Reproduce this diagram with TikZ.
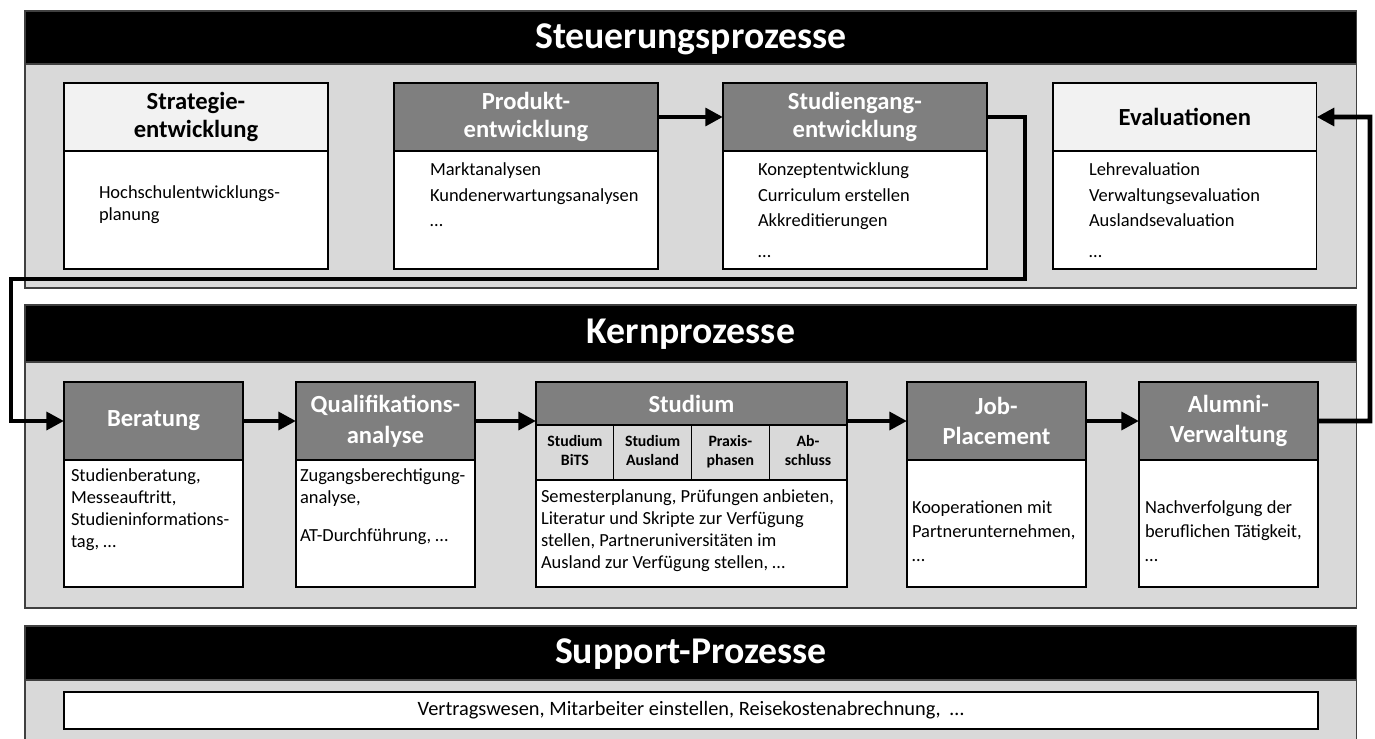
\documentclass[tikz,border=0pt]{standalone}
\usepackage{fontspec}
\setmainfont{Carlito}
\usetikzlibrary{arrows.meta,positioning}

\definecolor{panelgrey}{HTML}{D9D9D9}
\definecolor{headgrey}{HTML}{7F7F7F}
\definecolor{lightgrey}{HTML}{F2F2F2}

\begin{document}
\begin{tikzpicture}[
  x=0.02cm, y=-0.02cm,
  every node/.style={outer sep=0pt},
  panelhead/.style={fill=black, draw=black!75, line width=0.8pt, text=white, font=\fontsize{21.5}{24}\selectfont\bfseries, text depth=2pt, minimum width=26.64cm, anchor=north west, inner sep=0pt},
  panel/.style={fill=panelgrey, draw=black!75, line width=0.8pt, minimum width=26.64cm, inner sep=0pt},
  darkhead/.style={draw, line width=0.8pt, fill=headgrey, text=white, font=\fontsize{14}{16}\selectfont\bfseries, align=center, inner sep=0pt},
  lighthead/.style={darkhead, fill=lightgrey, text=black},
  topbox/.style={minimum width=5.28cm, minimum height=1.36cm},
  kernbox/.style={minimum width=3.58cm, minimum height=1.56cm, font=\fontsize{14}{17.5}\selectfont\bfseries},
  bodybox/.style={draw, line width=0.8pt, fill=white, inner sep=0pt},
  subcell/.style={draw, line width=0.8pt, fill=panelgrey, font=\fontsize{9}{10.8}\selectfont\bfseries, align=center, text depth=2pt, minimum width=1.555cm, minimum height=1.1cm, anchor=north west, inner sep=0pt},
  bodytext/.style={font=\fontsize{10.5}{12.5}\selectfont, align=left, anchor=north west, inner sep=0pt},
  toptext/.style={bodytext, font=\fontsize{10.5}{14.5}\selectfont},
  arrow/.style={-{Triangle[length=10pt,width=10pt]}, line width=2.6pt},
]
\useasboundingbox (0,0) rectangle (1375,738);
\clip (0,0) rectangle (1375,738);

% Steuerungsprozesse
\node[panelhead, minimum height=1.06cm] (steuerung) at (25,11) {Steuerungsprozesse};
\node[panel, minimum height=4.48cm, below=0pt of steuerung] (steuerungpanel) {};

\node[lighthead, topbox, anchor=north west] (strategie) at (64,83) {Strategie-\\entwicklung};
\node[darkhead, topbox, right=1.32cm of strategie] (produkt) {Produkt-\\entwicklung};
\node[darkhead, topbox, right=1.3cm of produkt] (studiengang) {Studiengang-\\entwicklung};
\node[lighthead, topbox, right=1.32cm of studiengang] (evaluation) {Evaluationen};

\node[bodybox, minimum width=5.28cm, minimum height=2.36cm, below=0pt of strategie] (strategiebody) {};
\node[bodybox, minimum width=5.28cm, minimum height=2.36cm, below=0pt of produkt] (produktbody) {};
\node[bodybox, minimum width=5.28cm, minimum height=2.36cm, below=0pt of studiengang] (studiengangbody) {};
\node[bodybox, minimum width=5.28cm, minimum height=2.36cm, below=0pt of evaluation] (evaluationbody) {};

\node[bodytext] (strategietext) at (99,186) {Hochschulentwicklungs-\\planung};
\node[toptext] (produkttext) at (430,163) {Marktanalysen\\Kundenerwartungsanalysen\\…};
\node[toptext] (studiengangtext) at (758,163) {Konzeptentwicklung\\Curriculum erstellen\\Akkreditierungen\\[3pt]…};
\node[toptext] (evaluationtext) at (1089,163) {Lehrevaluation\\Verwaltungsevaluation\\Auslandsevaluation\\[3pt]…};

% Kernprozesse
\node[panelhead, minimum height=1.14cm] (kern) at (25,305) {Kernprozesse};
\node[panel, minimum height=4.92cm, below=0pt of kern] (kernpanel) {};

\node[darkhead, kernbox, anchor=north west] (beratung) at (64,382) {Beratung};
\node[darkhead, kernbox, right=1.06cm of beratung] (quali) {Qualifikations-\\analyse};
\node[darkhead, minimum width=6.22cm, minimum height=0.86cm, anchor=north west] (studium) at (536,382) {Studium};
\node[darkhead, kernbox, anchor=north west] (job) at (907,382) {Job-\\Placement};
\node[darkhead, kernbox, right=1.06cm of job] (alumni) {Alumni-\\Verwaltung};

\node[subcell] (bits) at (studium.south west) {Studium\\BiTS};
\node[subcell] (ausland) at (bits.north east) {Studium\\Ausland};
\node[subcell] (praxis) at (ausland.north east) {Praxis-\\phasen};
\node[subcell] (abschluss) at (praxis.north east) {Ab-\\schluss};

\node[bodybox, minimum width=3.58cm, minimum height=2.54cm, below=0pt of beratung] (beratungbody) {};
\node[bodybox, minimum width=3.58cm, minimum height=2.54cm, below=0pt of quali] (qualibody) {};
\node[bodybox, minimum width=6.22cm, minimum height=2.14cm, anchor=north west] (studiumbody) at (bits.south west) {};
\node[bodybox, minimum width=3.58cm, minimum height=2.54cm, below=0pt of job] (jobbody) {};
\node[bodybox, minimum width=3.58cm, minimum height=2.54cm, below=0pt of alumni] (alumnibody) {};

\node[bodytext] (beratungtext) at (71,469) {Studienberatung,\\Messeauftritt,\\Studieninformations-\\tag, …};
\node[bodytext] (qualitext) at (300,469) {Zugangsberechtigung-\\analyse,\\[9pt]AT-Durchführung, …};
\node[bodytext] (studiumtext) at (541,490) {Semesterplanung, Prüfungen anbieten,\\Literatur und Skripte zur Verfügung\\stellen, Partneruniversitäten im\\Ausland zur Verfügung stellen, …};
\node[bodytext, font=\fontsize{10.5}{13.5}\selectfont] (jobtext) at (912,501) {Kooperationen mit\\Partnerunternehmen,\\…};
\node[bodytext, font=\fontsize{10.5}{13.5}\selectfont] (alumnitext) at (1145,501) {Nachverfolgung der\\beruflichen Tätigkeit,\\…};

% Support-Prozesse
\node[panelhead, minimum height=1.08cm] (support) at (25,626) {Support-Prozesse};
\node[panel, minimum height=1.4cm, below=0pt of support] (supportpanel) {};
\node[bodybox, line width=1pt, minimum width=25.08cm, minimum height=0.74cm, anchor=north west, font=\fontsize{11.6}{13}\selectfont] (supportbox) at (64,692) {Vertragswesen, Mitarbeiter einstellen, Reisekostenabrechnung,\ \ …};

% Pfeile
\coordinate (loopA) at (1025,279);
\coordinate (loopB) at (11,279);
\coordinate (loopC) at (1370,117);

\draw[arrow] (produkt) -- (studiengang);
\draw[arrow] (studiengang.east) -| (loopA) -- (loopB) |- (beratung.west);
\draw[arrow] (beratung) -- (quali);
\draw[arrow] (quali.east) -- (quali.east -| studium.west);
\draw[arrow] (job.west -| studium.east) -- (job.west);
\draw[arrow] (job) -- (alumni);
\draw[arrow] (alumni.east) -| (loopC) -- (evaluation.east);
\end{tikzpicture}
\end{document}
